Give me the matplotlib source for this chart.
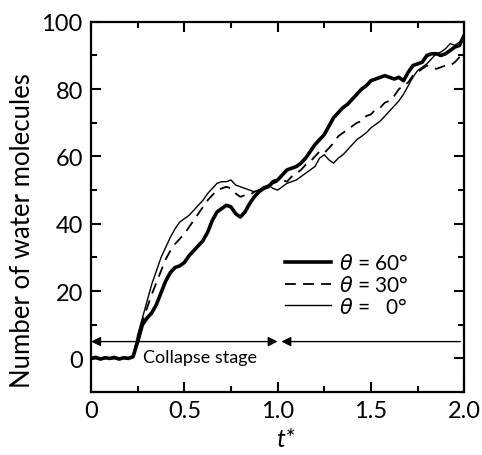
import matplotlib
matplotlib.use('Agg')
import matplotlib.pyplot as plt

plt.rcParams['font.family'] = ['Lato', 'DejaVu Sans']
plt.rcParams['mathtext.fontset'] = 'dejavusans'

t = [0.000, 0.025, 0.050, 0.075, 0.100, 0.125, 0.150, 0.175, 0.200, 0.225,
     0.250, 0.275, 0.300, 0.325, 0.350, 0.375, 0.400, 0.425, 0.450, 0.475,
     0.500, 0.525, 0.550, 0.575, 0.600, 0.625, 0.650, 0.675, 0.700, 0.725,
     0.750, 0.775, 0.800, 0.825, 0.850, 0.875, 0.900, 0.925, 0.950, 0.975,
     1.000, 1.025, 1.050, 1.075, 1.100, 1.125, 1.150, 1.175, 1.200, 1.225,
     1.250, 1.275, 1.300, 1.325, 1.350, 1.375, 1.400, 1.425, 1.450, 1.475,
     1.500, 1.525, 1.550, 1.575, 1.600, 1.625, 1.650, 1.675, 1.700, 1.725,
     1.750, 1.775, 1.800, 1.825, 1.850, 1.875, 1.900, 1.925, 1.950, 1.975,
     2.000]

theta60 = [0, 0.3, -0.2, 0.2, 0, 0.3, -0.2, 0.2, 0, 0.5,
           5, 10, 12, 13.5, 16, 19.5, 23, 25.5, 27, 27.5,
           28.5, 30.5, 32, 33.5, 35, 37.5, 41, 43.5, 44.5, 45.5,
           45, 43, 42, 43.5, 46, 48, 49.5, 50.5, 51, 52.5,
           53, 54.5, 56, 56.5, 57, 58, 59.5, 61.5, 63.5, 65,
           66.5, 69, 71.5, 73, 74.5, 75.5, 77, 78.5, 80, 81,
           82.5, 83, 83.5, 84, 83.5, 83, 83.5, 82.5, 85, 87,
           87.5, 88, 90, 90.5, 90.5, 90, 90.5, 91.5, 92.5, 93,
           96]

theta30 = [0, 0, 0, 0, 0, 0, 0, 0, 0, 0.5,
           5.5, 11, 15, 19, 22.5, 26, 29.5, 32, 34, 35.5,
           37, 39, 41, 43, 45, 47, 48.5, 50, 50.5, 51,
           50.5, 49, 48, 48.5, 48.5, 49.5, 50, 50.5, 51, 52,
           52.5, 53, 52.5, 54, 55, 56, 57.5, 58.5, 60, 61.5,
           61, 62.5, 64, 66, 67, 68, 69, 70, 70.5, 72,
           72.5, 74, 74.5, 76, 76.5, 78, 80, 81, 82, 84,
           85, 86, 87, 86.5, 86, 86.5, 87, 87, 88, 89.5,
           91]

theta0 = [0, 0, 0, 0, 0, 0, 0, 0, 0, 1,
          7, 12, 17, 22, 26, 30, 33, 36, 38.5, 40.5,
          41.5, 42.5, 44, 45.5, 47, 49, 50.5, 52, 52.5, 52.5,
          53, 51.5, 51, 50.5, 50, 49.5, 50, 51, 51.5, 50.5,
          50, 51, 52, 52.5, 53, 54, 55, 56, 57, 59.5,
          60.5, 59, 58, 59.5, 60.5, 62, 63.5, 65, 66, 67,
          68.5, 69.5, 70.5, 72, 73.5, 75, 76.5, 78.5, 81, 83.5,
          85.5, 86.5, 87.5, 89, 90.5, 91, 92, 93.5, 93, 94,
          95.5]

labels = [r'$\theta$ = 60°', r'$\theta$ = 30°', r'$\theta$ =   0°']

fig = plt.figure(figsize=(4.82, 4.56), dpi=100)
ax = fig.add_axes([0.189, 0.138, 0.774, 0.812])

ax.plot(t, theta0, color='black', lw=1.0, label=labels[2], zorder=2)
ax.plot(t, theta30, color='black', lw=1.3, ls=(0, (6, 4)), label=labels[1], zorder=3)
ax.plot(t, theta60, color='black', lw=2.6, label=labels[0], zorder=4)

# collapse stage arrows
ax.annotate('', xy=(0.0, 5), xytext=(1.0, 5),
            arrowprops=dict(arrowstyle='<|-|>', color='black', lw=1.0,
                            mutation_scale=14, shrinkA=0, shrinkB=0))
ax.annotate('', xy=(1.02, 5), xytext=(1.98, 5),
            arrowprops=dict(arrowstyle='-|>', color='black', lw=1.0,
                            mutation_scale=14, shrinkA=0, shrinkB=0))
ax.text(0.28, 0.3, 'Collapse stage', fontsize=13, ha='left', va='center')

ax.set_xlim(0, 2.0)
ax.set_ylim(-10, 100)
ax.set_xticks([0, 0.5, 1.0, 1.5, 2.0])
ax.set_xticklabels(['0', '0.5', '1.0', '1.5', '2.0'])
ax.set_xticks([0.25, 0.75, 1.25, 1.75], minor=True)
ax.set_yticks([0, 20, 40, 60, 80, 100])
ax.set_yticks([-10, 10, 30, 50, 70, 90], minor=True)
ax.tick_params(which='both', direction='in', top=True, right=True,
               labelsize=17, width=1.5)
ax.tick_params(which='major', length=7, pad=6)
ax.tick_params(which='minor', length=4)
for s in ax.spines.values():
    s.set_linewidth(1.6)

ax.set_ylabel('Number of water molecules', fontsize=18.5)
ax.yaxis.set_label_coords(-0.15, 0.44)
ax.set_xlabel('t*', fontsize=18, style='italic')
ax.xaxis.set_label_coords(0.52, -0.095)

handles, labs = ax.get_legend_handles_labels()
order = [2, 1, 0]
ax.legend([handles[i] for i in order], [labs[i] for i in order],
          loc='upper left', bbox_to_anchor=(0.52, 0.375), frameon=False,
          fontsize=15, handlelength=2.2, handletextpad=0.4,
          labelspacing=0.08, borderpad=0, borderaxespad=0)

fig.savefig('out.png', dpi=100)
